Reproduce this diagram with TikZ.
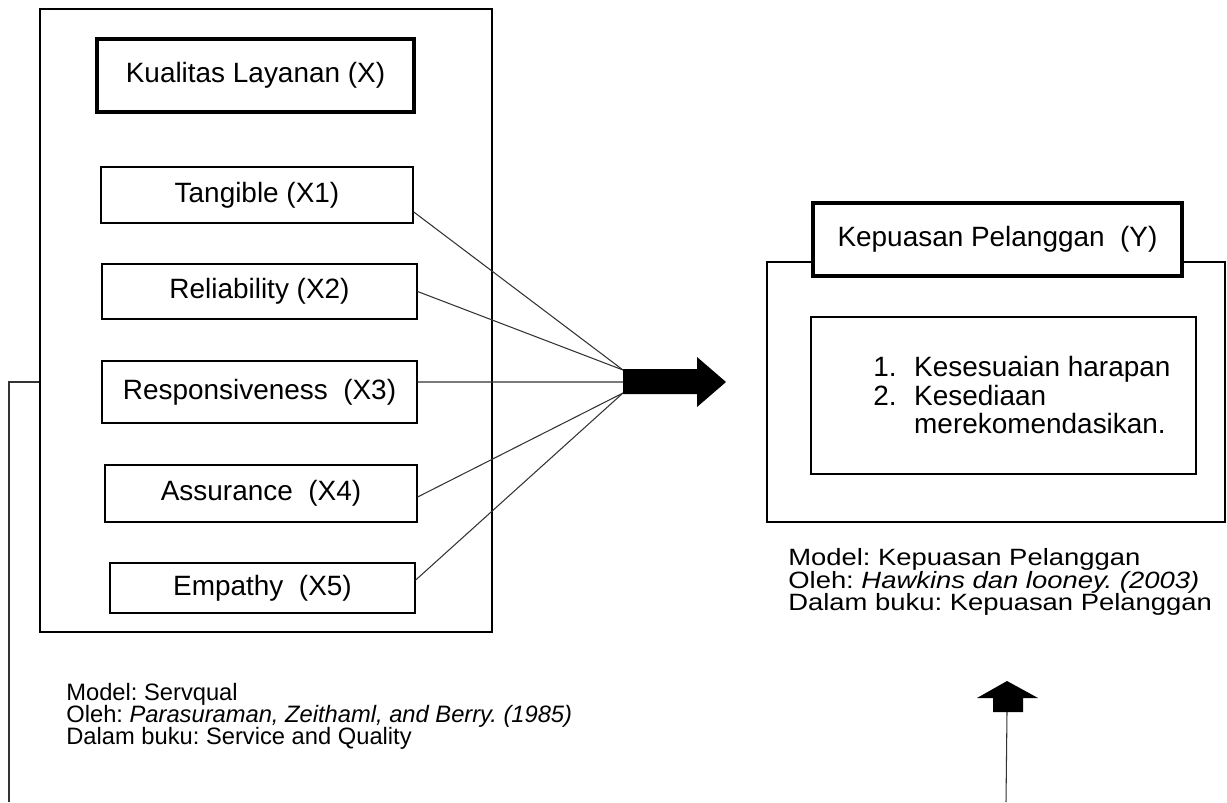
\documentclass[tikz,border=0pt]{standalone}
\usepackage{graphicx}
\usepackage{fontspec}
\setmainfont{Liberation Sans}
\frenchspacing

\newcommand*{\boxfont}{\fontsize{15.9}{18}\selectfont}
\newcommand*{\leftcapfont}{\fontsize{13.5}{12.5}\selectfont\lineskiplimit=-20pt\relax}
\newcommand*{\rightcapfont}{\fontsize{15.6}{15}\selectfont}

\begin{document}
\begin{tikzpicture}
[
	x=0.02cm,
	y=-0.02cm,
	frame/.style={draw,line width=1.3pt,inner sep=0pt},
	titlebox/.style={draw,fill=white,line width=2.1pt,inner sep=0pt,font=\boxfont},
	itembox/.style={draw,line width=0.7pt,inner sep=0pt,font=\boxfont},
	caption/.style={anchor=west,align=left,inner sep=0pt},
	link/.style={draw=black!80,line width=0.6pt}
]

	\useasboundingbox (0,0) rectangle (1227,802);

	% kualitas layanan
	\node[frame,minimum width=9.04cm,minimum height=12.46cm] (xbox) at (266,320.5) {};
	\node[titlebox,minimum width=6.34cm,minimum height=1.46cm] (xtitle) at (255.5,75.5) {Kualitas Layanan (X)};

	\node[itembox,minimum width=6.24cm,minimum height=1.12cm] (tang) at (257,195) {Tangible (X1)};
	\node[itembox,minimum width=6.3cm,minimum height=1.1cm] (reli) at (259.5,291.5) {Reliability (X2)};
	\node[itembox,minimum width=6.3cm,minimum height=1.24cm] (resp) at (259.5,392) {Responsiveness\ \ (X3)};
	\node[itembox,minimum width=6.24cm,minimum height=1.14cm] (assu) at (261,493.5) {Assurance\ \ (X4)};
	\node[itembox,minimum width=6.1cm,minimum height=1cm] (empa) at (262.5,588) {Empathy\ \ (X5)};

	\node[caption,font=\leftcapfont] (xcap) at (66,716)
		{Model: Servqual\\
		 Oleh: \textit{Parasuraman, Zeithaml, and Berry. (1985)}\\
		 Dalam buku: Service and Quality};

	% kepuasan pelanggan
	\node[frame,minimum width=9.16cm,minimum height=5.2cm] (ybox) at (996,392) {};
	\node[titlebox,minimum width=7.38cm,minimum height=1.46cm] (ytitle) at (997.5,239.5) {Kepuasan Pelanggan\ \ (Y)};
	\node[itembox,minimum width=7.7cm,minimum height=3.14cm] (yinner) at (1003.5,395.5) {};

	\node[anchor=west,inner sep=0pt,font=\boxfont] (ylist) at (873,399)
		{\fontsize{15.9}{15.3}\selectfont
		 \begin{tabular}{@{}l@{\hspace{10pt}}l@{}}
			1. & Kesesuaian harapan\\
			2. & Kesediaan\\
			   & merekomendasikan.
		 \end{tabular}};

	\node[anchor=west,inner sep=0pt,font=\rightcapfont] (ycap) at (788,582)
		{\scalebox{1}[0.86]{\vbox{\baselineskip=15pt\lineskiplimit=-20pt\relax
			\hbox{Model: Kepuasan Pelanggan}
			\hbox{Oleh: \textit{Hawkins dan looney. (2003)}}
			\hbox{Dalam buku: Kepuasan Pelanggan}}}};

	% big arrow
	\coordinate (tailtop) at (623,370);
	\coordinate (tailmid) at (623,382);
	\coordinate (tailbot) at (623,393);
	\fill (623,369) -- (697,369) -- (697,357) -- (726,382) -- (697,407) -- (697,394) -- (623,394) -- cycle;

	\draw[link] ([yshift=-9.6pt]tang.east) -- (tailtop);
	\draw[link] (reli.east) -- (tailtop);
	\draw[link] ([yshift=5.7pt]resp.east) -- (tailmid);
	\draw[link] ([yshift=-2pt]assu.east) -- (tailbot);
	\draw[link] ([yshift=4.5pt]empa.east) -- (tailbot);

	% left line
	\coordinate (lbot) at (9,802);
	\draw[link] (xbox.west |- tailmid) -| (lbot);

	% up arrow
	\coordinate (ubot) at (1006,802);
	\coordinate (uhead) at (1007,712);
	\draw[link] (ubot) -- (uhead);
	\fill (993,712) -- (993,698) -- (977,698) -- (1007,681) -- (1038,698) -- (1023,698) -- (1023,712) -- cycle;

\end{tikzpicture}
\end{document}
